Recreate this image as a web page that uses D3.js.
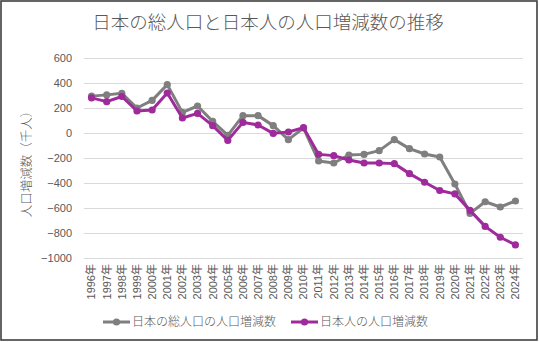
<!DOCTYPE html>
<html><head><meta charset="utf-8">
<script src="https://cdn.jsdelivr.net/npm/d3@7"></script>
<style>
body{margin:0;background:#fff;}
text{font-family:"Liberation Sans","Noto Sans CJK JP",Arial,sans-serif;}
.cjk{font-family:"Noto Sans CJK JP",sans-serif;font-weight:300;}
</style></head>
<body><svg id="c" width="539" height="342"></svg>
<script>
const years = ["1996年","1997年","1998年","1999年","2000年","2001年","2002年","2003年","2004年","2005年","2006年","2007年","2008年","2009年","2010年","2011年","2012年","2013年","2014年","2015年","2016年","2017年","2018年","2019年","2020年","2021年","2022年","2023年","2024年"];
const totalChange = [295,305,318,200,261,387,165,216,93,-19,139,139,59,-53,40,-224,-240,-176,-171,-141,-53,-125,-168,-192,-408,-643,-550,-592,-544];
const japaneseChange = [281,251,292,176,184,320,120,157,59,-59,85,64,-3,8,43,-171,-181,-216,-240,-240,-245,-325,-394,-460,-487,-619,-747,-834,-895];
const yTicks = [600,400,200,0,-200,-400,-600,-800,-1000];
const seriesNames = ["日本の総人口の人口増減数","日本人の人口増減数"];
const colors = ["#7f7f7f","#9e2a9b"];

const svg = d3.select("#c");
svg.append("rect").attr("x",1).attr("y",1).attr("width",536).attr("height",339)
  .attr("fill","#fff").attr("stroke","#3f3f3f").attr("stroke-width",1.6);

const L=84,R=523,T=58,B=258;
const x = d3.scaleBand().domain(years).range([L,R]);
const y = d3.scaleLinear().domain([-1000,600]).range([B,T]);

svg.append("text").attr("class","cjk").attr("x",268).attr("y",29).attr("text-anchor","middle")
  .attr("font-size",18.5).attr("fill","#595959").text("日本の総人口と日本人の人口増減数の推移");

// grid
svg.append("g").selectAll("line").data(yTicks).join("line")
  .attr("x1",L).attr("x2",R).attr("y1",d=>y(d)+0.5).attr("y2",d=>y(d)+0.5)
  .attr("stroke","#d9d9d9").attr("stroke-width",1);

const yAxis = svg.append("g").attr("transform",`translate(${L},0)`)
  .call(d3.axisLeft(y).tickValues(yTicks).tickSize(0).tickPadding(12).tickFormat(d3.format("d")));
yAxis.select(".domain").remove();
yAxis.selectAll("text").attr("font-size",11).attr("fill","#595959")
  .style("font-family","'Liberation Sans',Arial,sans-serif");

const xAxis = svg.append("g").attr("transform",`translate(0,${B})`)
  .call(d3.axisBottom(x).tickSize(0).tickPadding(0));
xAxis.select(".domain").remove();
xAxis.selectAll("text").attr("font-size",11).attr("fill","#595959")
  .style("font-family","'Liberation Sans','Noto Sans CJK JP',sans-serif")
  .attr("transform","rotate(-90)").attr("text-anchor","end")
  .attr("x",-6).attr("y",0).attr("dy","0.35em");

svg.append("text").attr("class","cjk").attr("transform","translate(31,161) rotate(-90)")
  .attr("text-anchor","middle").attr("font-size",12.5).attr("fill","#595959")
  .text("人口増減数（千人）");

const cx = d=>x(d)+x.bandwidth()/2;
[totalChange,japaneseChange].forEach((vals,i)=>{
  const pts = years.map((yr,j)=>({yr,v:vals[j]}));
  svg.append("path").datum(pts).attr("fill","none").attr("stroke",colors[i])
    .attr("stroke-width",3).attr("stroke-linejoin","round")
    .attr("d",d3.line().x(d=>cx(d.yr)).y(d=>y(d.v)));
  svg.append("g").selectAll("circle").data(pts).join("circle")
    .attr("cx",d=>cx(d.yr)).attr("cy",d=>y(d.v)).attr("r",3.6).attr("fill",colors[i]);
});

// legend
const leg = [{x:103,tx:132},{x:291,tx:320}];
seriesNames.forEach((n,i)=>{
  const g = svg.append("g");
  g.append("line").attr("x1",leg[i].x).attr("x2",leg[i].x+27).attr("y1",322).attr("y2",322)
    .attr("stroke",colors[i]).attr("stroke-width",3);
  g.append("circle").attr("cx",leg[i].x+13.5).attr("cy",322).attr("r",3.6).attr("fill",colors[i]);
  g.append("text").attr("class","cjk").attr("x",leg[i].tx).attr("y",322).attr("dy","0.35em")
    .attr("font-size",12).attr("fill","#595959").text(n);
});
</script></body></html>
